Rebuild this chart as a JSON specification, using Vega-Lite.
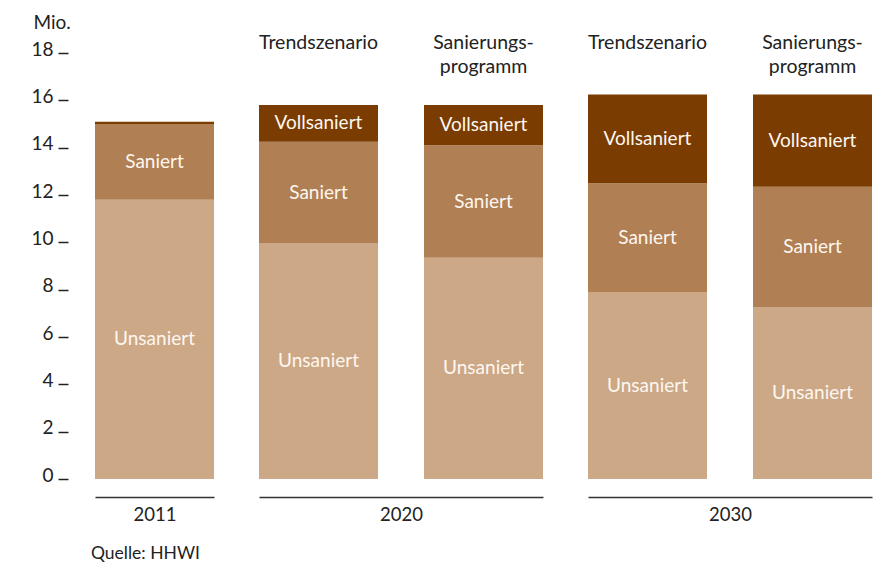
{
  "$schema": "https://vega.github.io/schema/vega-lite/v6.json",
  "padding": {"left": 30, "top": 13, "right": 5, "bottom": 5},
  "spacing": 45,
  "datasets": {
    "bestand": [
      {"jahr": "2011", "szenario": "Bestand", "zustand": "Unsaniert", "stufe": 1, "wert": 11.8},
      {"jahr": "2011", "szenario": "Bestand", "zustand": "Saniert", "stufe": 2, "wert": 3.2},
      {"jahr": "2011", "szenario": "Bestand", "zustand": "Vollsaniert", "stufe": 3, "wert": 0.1},
      {"jahr": "2020", "szenario": "Trendszenario", "zustand": "Unsaniert", "stufe": 1, "wert": 9.95},
      {"jahr": "2020", "szenario": "Trendszenario", "zustand": "Saniert", "stufe": 2, "wert": 4.3},
      {"jahr": "2020", "szenario": "Trendszenario", "zustand": "Vollsaniert", "stufe": 3, "wert": 1.55},
      {"jahr": "2020", "szenario": "Sanierungsprogramm", "zustand": "Unsaniert", "stufe": 1, "wert": 9.35},
      {"jahr": "2020", "szenario": "Sanierungsprogramm", "zustand": "Saniert", "stufe": 2, "wert": 4.75},
      {"jahr": "2020", "szenario": "Sanierungsprogramm", "zustand": "Vollsaniert", "stufe": 3, "wert": 1.7},
      {"jahr": "2030", "szenario": "Trendszenario", "zustand": "Unsaniert", "stufe": 1, "wert": 7.9},
      {"jahr": "2030", "szenario": "Trendszenario", "zustand": "Saniert", "stufe": 2, "wert": 4.6},
      {"jahr": "2030", "szenario": "Trendszenario", "zustand": "Vollsaniert", "stufe": 3, "wert": 3.75},
      {"jahr": "2030", "szenario": "Sanierungsprogramm", "zustand": "Unsaniert", "stufe": 1, "wert": 7.25},
      {"jahr": "2030", "szenario": "Sanierungsprogramm", "zustand": "Saniert", "stufe": 2, "wert": 5.1},
      {"jahr": "2030", "szenario": "Sanierungsprogramm", "zustand": "Vollsaniert", "stufe": 3, "wert": 3.9}
    ]
  },
  "data": {"name": "bestand"},
  "title": {
    "text": "Quelle: HHWI",
    "orient": "bottom",
    "anchor": "start",
    "frame": "bounds",
    "dx": 60,
    "offset": 21,
    "fontSize": 17.5,
    "fontWeight": "normal",
    "color": "#222"
  },
  "resolve": {"scale": {"x": "independent", "y": "independent"}},
  "hconcat": [
    {
      "width": 119,
      "height": 426,
      "transform": [{"filter": "datum.jahr == '2011'"}],
      "encoding": {
        "x": {
          "field": "szenario", "type": "nominal",
          "scale": {"paddingInner": 0.2788, "paddingOuter": 0},
          "axis": {"title": "2011"}
        }
      },
      "layer": [
        {
          "mark": {"type": "bar"},
          "encoding": {
            "y": {
              "field": "wert", "type": "quantitative", "stack": "zero",
              "scale": {"domain": [0, 18], "nice": false},
              "axis": {"title": "Mio.", "values": [0, 2, 4, 6, 8, 10, 12, 14, 16, 18]}
            },
            "order": {"field": "stufe", "type": "quantitative"},
            "color": {
              "field": "zustand", "type": "nominal",
              "scale": {"domain": ["Unsaniert", "Saniert", "Vollsaniert"], "range": ["#cca887", "#b17f54", "#7a3c00"]},
              "legend": null
            }
          }
        },
        {
          "transform": [
            {"stack": "wert", "groupby": ["szenario"], "sort": [{"field": "stufe", "order": "ascending"}], "as": ["unten", "oben"]},
            {"calculate": "(datum.unten + datum.oben) / 2", "as": "mitte"},
            {"filter": "datum.wert >= 0.5"}
          ],
          "mark": {"type": "text", "baseline": "middle", "fontSize": 19, "color": "#fdf7f0"},
          "encoding": {
            "y": {
              "field": "mitte", "type": "quantitative",
              "scale": {"domain": [0, 18], "nice": false},
              "axis": {"title": "Mio.", "values": [0, 2, 4, 6, 8, 10, 12, 14, 16, 18]}
            },
            "text": {"field": "zustand"}
          }
        }
      ]
    },
    {
      "width": 284,
      "height": 426,
      "transform": [{"filter": "datum.jahr == '2020'"}],
      "encoding": {
        "x": {
          "field": "szenario", "type": "nominal",
          "sort": ["Trendszenario", "Sanierungsprogramm"],
          "scale": {"paddingInner": 0.2788, "paddingOuter": 0},
          "axis": {"title": "2020"}
        }
      },
      "layer": [
        {
          "mark": {"type": "bar"},
          "encoding": {
            "y": {"field": "wert", "type": "quantitative", "stack": "zero", "scale": {"domain": [0, 18], "nice": false}, "axis": null},
            "order": {"field": "stufe", "type": "quantitative"},
            "color": {
              "field": "zustand", "type": "nominal",
              "scale": {"domain": ["Unsaniert", "Saniert", "Vollsaniert"], "range": ["#cca887", "#b17f54", "#7a3c00"]},
              "legend": null
            }
          }
        },
        {
          "transform": [
            {"stack": "wert", "groupby": ["szenario"], "sort": [{"field": "stufe", "order": "ascending"}], "as": ["unten", "oben"]},
            {"calculate": "(datum.unten + datum.oben) / 2", "as": "mitte"},
            {"filter": "datum.wert >= 0.5"}
          ],
          "mark": {"type": "text", "baseline": "middle", "fontSize": 19, "color": "#fdf7f0"},
          "encoding": {
            "y": {"field": "mitte", "type": "quantitative", "scale": {"domain": [0, 18], "nice": false}, "axis": null},
            "text": {"field": "zustand"}
          }
        },
        {
          "transform": [
            {"filter": "datum.stufe == 3"},
            {"calculate": "datum.szenario == 'Sanierungsprogramm' ? 'Sanierungs-\\nprogramm' : datum.szenario", "as": "kopf"}
          ],
          "mark": {"type": "text", "baseline": "alphabetic", "lineBreak": "\n", "lineHeight": 24, "fontSize": 19.5, "color": "#222", "dy": -4},
          "encoding": {
            "y": {"datum": 18, "type": "quantitative", "scale": {"domain": [0, 18], "nice": false}, "axis": null},
            "text": {"field": "kopf"}
          }
        }
      ]
    },
    {
      "width": 284,
      "height": 426,
      "transform": [{"filter": "datum.jahr == '2030'"}],
      "encoding": {
        "x": {
          "field": "szenario", "type": "nominal",
          "sort": ["Trendszenario", "Sanierungsprogramm"],
          "scale": {"paddingInner": 0.2788, "paddingOuter": 0},
          "axis": {"title": "2030"}
        }
      },
      "layer": [
        {
          "mark": {"type": "bar"},
          "encoding": {
            "y": {"field": "wert", "type": "quantitative", "stack": "zero", "scale": {"domain": [0, 18], "nice": false}, "axis": null},
            "order": {"field": "stufe", "type": "quantitative"},
            "color": {
              "field": "zustand", "type": "nominal",
              "scale": {"domain": ["Unsaniert", "Saniert", "Vollsaniert"], "range": ["#cca887", "#b17f54", "#7a3c00"]},
              "legend": null
            }
          }
        },
        {
          "transform": [
            {"stack": "wert", "groupby": ["szenario"], "sort": [{"field": "stufe", "order": "ascending"}], "as": ["unten", "oben"]},
            {"calculate": "(datum.unten + datum.oben) / 2", "as": "mitte"},
            {"filter": "datum.wert >= 0.5"}
          ],
          "mark": {"type": "text", "baseline": "middle", "fontSize": 19, "color": "#fdf7f0"},
          "encoding": {
            "y": {"field": "mitte", "type": "quantitative", "scale": {"domain": [0, 18], "nice": false}, "axis": null},
            "text": {"field": "zustand"}
          }
        },
        {
          "transform": [
            {"filter": "datum.stufe == 3"},
            {"calculate": "datum.szenario == 'Sanierungsprogramm' ? 'Sanierungs-\\nprogramm' : datum.szenario", "as": "kopf"}
          ],
          "mark": {"type": "text", "baseline": "alphabetic", "lineBreak": "\n", "lineHeight": 24, "fontSize": 19.5, "color": "#222", "dy": -4},
          "encoding": {
            "y": {"datum": 18, "type": "quantitative", "scale": {"domain": [0, 18], "nice": false}, "axis": null},
            "text": {"field": "kopf"}
          }
        }
      ]
    }
  ],
  "config": {
    "font": "Lato",
    "view": {"stroke": null},
    "axisY": {
      "domain": false,
      "grid": false,
      "tickSize": 10,
      "tickWidth": 1.5,
      "tickColor": "#222",
      "labelFontSize": 19,
      "labelColor": "#222",
      "labelPadding": 5,
      "labelBaseline": "alphabetic",
      "labelOffset": 2,
      "labelFlush": false,
      "labelOverlap": false,
      "offset": 27,
      "titleAngle": 0,
      "titleAlign": "left",
      "titleBaseline": "alphabetic",
      "titleX": -35,
      "titleY": -25,
      "titleFontSize": 19,
      "titleFontWeight": "normal",
      "titleColor": "#222"
    },
    "axisX": {
      "labels": false,
      "ticks": false,
      "grid": false,
      "domainColor": "#333",
      "domainWidth": 1.5,
      "offset": 18,
      "titleFontSize": 18.5,
      "titleFontWeight": "normal",
      "titlePadding": 8,
      "titleColor": "#222"
    }
  }
}
